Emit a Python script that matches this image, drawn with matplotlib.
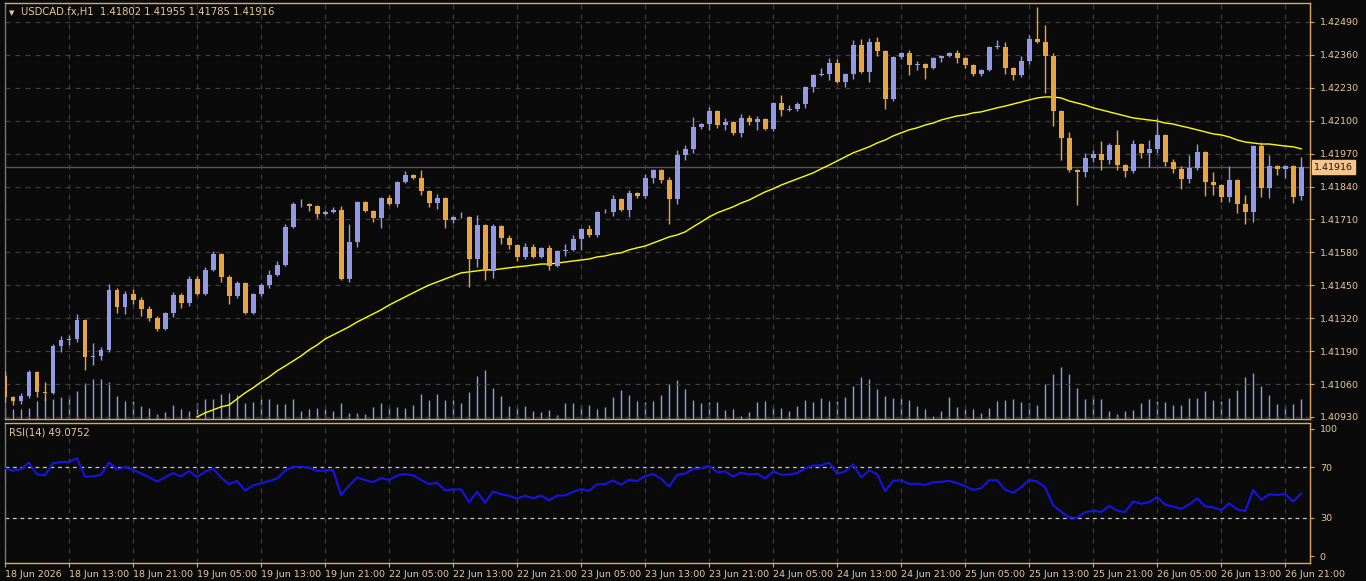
import numpy as np
import matplotlib
matplotlib.use("Agg")
import matplotlib.pyplot as plt
from matplotlib.patches import Rectangle

closes = [1.41009,1.40993,1.41013,1.41108,1.41029,1.41025,1.41210,1.41234,1.41238,1.41313,
1.41167,1.41171,1.41195,1.41432,1.41365,1.41416,1.41392,1.41357,1.41321,1.41278,
1.41341,1.41412,1.41380,1.41475,1.41416,1.41511,1.41574,1.41483,1.41408,1.41459,
1.41341,1.41416,1.41451,1.41491,1.41530,1.41681,1.41771,1.41771,1.41763,1.41732,
1.41740,1.41748,1.41475,1.41621,1.41779,1.41744,1.41716,1.41795,1.41771,1.41858,
1.41886,1.41874,1.41823,1.41775,1.41795,1.41708,1.41720,1.41720,1.41554,1.41688,
1.41507,1.41684,1.41637,1.41609,1.41562,1.41602,1.41562,1.41598,1.41526,1.41586,
1.41590,1.41633,1.41673,1.41649,1.41740,1.41740,1.41791,1.41748,1.41815,1.41803,
1.41874,1.41906,1.41866,1.41791,1.41965,1.41989,1.42076,1.42087,1.42139,1.42083,
1.42095,1.42052,1.42111,1.42095,1.42107,1.42068,1.42170,1.42143,1.42147,1.42166,
1.42234,1.42281,1.42285,1.42328,1.42253,1.42285,1.42399,1.42293,1.42411,1.42376,
1.42186,1.42352,1.42368,1.42320,1.42324,1.42309,1.42348,1.42356,1.42368,1.42348,
1.42320,1.42285,1.42301,1.42392,1.42392,1.42309,1.42281,1.42336,1.42423,1.42411,
1.42356,1.42139,1.42032,1.41906,1.41898,1.41953,1.41969,1.41945,1.42004,1.41925,
1.41902,1.42008,1.41973,1.41989,1.42044,1.41937,1.41910,1.41870,1.41914,1.41977,
1.41858,1.41846,1.41799,1.41866,1.41771,1.41740,1.42000,1.41835,1.41921,1.41910,
1.41921,1.41799,1.41916]
first_open = 1.41092
last_open = 1.41802

upper_wick = [20,5,10,8,5,40,8,15,15,25, 5,50,10,25,8,12,20,10,12,8,
5,12,8,10,10,10,10,5,8,8, 5,5,10,20,15,10,10,20,5,5,
8,10,15,70,5,5,5,5,10,5, 15,5,30,5,15,5,5,20,5,40,
5,10,5,10,5,15,10,5,10,5, 25,15,5,15,5,10,15,5,10,5,
15,5,5,10,20,15,40,5,15,5, 15,5,15,10,10,5,5,30,15,8,
5,5,25,20,15,5,20,25,15,20, 5,5,5,10,10,5,5,5,5,10,
5,5,
5,5,25,20,5,20,15,128,68,10, 5,25,5,20,15,50,10,60,5,15,
5,35,65,5,10,10,50,30,5,40, 5,55,5,35,5,15,45,5,5,5, 39]
lower_wick = [20,15,10,10,20,30,5,25,20,10, 50,30,15,10,25,30,15,30,10,10,
5,15,20,10,5,5,5,20,30,10, 5,5,10,10,5,5,5,10,20,15,
5,5,5,10,20,5,15,40,5,10, 5,5,15,15,25,30,10,5,110,30,
35,30,25,15,15,10,5,5,15,5, 20,5,45,10,10,5,15,5,30,10,
10,20,10,100,20,20,15,10,25,10, 20,10,15,10,30,5,10,25,5,10,
15,20,5,25,5,20,20,5,40,20, 40,10,10,40,20,45,5,15,5,20,
10,10,
10,5,10,25,20,10,10,5,145,60, 88,8,130,20,15,40,15,20,25,10,
20,55,15,15,15,40,15,10,55,40, 20,20,35,48,40,35,40,25,35,25, 14]

volume = [12,10,10,11,18,22,20,22,23,28, 36,40,40,37,23,18,18,13,11,5,
7,14,10,8,16,20,20,25,26,24, 16,17,20,20,15,15,20,8,10,11,
10,8,16,6,6,5,12,16,12,12, 11,14,25,19,25,19,19,16,27,43,
49,31,23,13,12,13,8,7,9,4, 16,16,14,14,10,12,22,29,24,18,
17,18,24,35,39,30,19,16,17,17, 9,10,3,7,17,18,12,11,8,13,
19,17,21,18,18,22,33,42,40,30, 23,21,21,19,13,10,3,8,22,12,
10,10,
6,11,18,19,20,17,16,14,35,45, 52,45,31,20,23,20,8,5,8,9,
16,20,18,17,14,14,21,21,28,19, 18,21,29,42,46,33,24,15,13,15, 20]

ma_start = 24
ma_values = [1.40930,1.40946,1.40958,1.40970,1.40977,1.41001,1.41025,1.41045,1.41068,1.41088,
1.41112,1.41131,1.41151,1.41171,1.41195,1.41214,1.41238,1.41254,1.41270,1.41286,
1.41305,1.41321,1.41337,1.41353,1.41372,1.41388,1.41404,1.41420,1.41436,1.41451,
1.41463,1.41475,1.41487,1.41499,1.41503,1.41507,1.41511,1.41511,1.41515,1.41519,
1.41523,1.41526,1.41530,1.41534,1.41534,1.41538,1.41542,1.41546,1.41550,1.41554,
1.41562,1.41566,1.41574,1.41578,1.41590,1.41598,1.41605,1.41617,1.41629,1.41641,
1.41649,1.41661,1.41681,1.41700,1.41720,1.41736,1.41748,1.41760,1.41775,1.41787,
1.41803,1.41819,1.41831,1.41846,1.41858,1.41870,1.41882,1.41894,1.41910,1.41925,
1.41941,1.41957,1.41973,1.41985,1.41997,1.42012,1.42024,1.42040,1.42052,1.42064,
1.42072,1.42083,1.42091,1.42103,1.42111,1.42119,1.42123,1.42131,1.42135,1.42143,
1.42151,1.42158,1.42166,1.42174,1.42182,1.42190,1.42194,1.42194,1.42190,1.42178,
1.42170,1.42162,1.42151,1.42143,1.42135,1.42127,1.42119,1.42111,1.42107,1.42103,
1.42099,1.42091,1.42087,1.42079,1.42072,1.42064,1.42056,1.42048,1.42044,1.42036,
1.42024,1.42016,1.42012,1.42008,1.42008,1.42004,1.42000,1.41997,1.41989]

price_ticks = [1.42490,1.42360,1.42230,1.42100,1.41970,1.41840,1.41710,1.41580,1.41450,1.41320,1.41190,1.41060,1.40930]
time_labels = ["18 Jun 2026","18 Jun 13:00","18 Jun 21:00","19 Jun 05:00","19 Jun 13:00","19 Jun 21:00",
"22 Jun 05:00","22 Jun 13:00","22 Jun 21:00","23 Jun 05:00","23 Jun 13:00","23 Jun 21:00",
"24 Jun 05:00","24 Jun 13:00","24 Jun 21:00","25 Jun 05:00","25 Jun 13:00","25 Jun 21:00",
"26 Jun 05:00","26 Jun 13:00","26 Jun 21:00"]
rsi_ticks = [100, 70, 30, 0]
rsi_seed_gain, rsi_seed_loss = 0.00030, 0.000070
title = "USDCAD.fx,H1  1.41802 1.41955 1.41785 1.41916"
rsi_title = "RSI(14) 49.0752"

closes = np.array(closes)
n = len(closes)
opens = np.concatenate([[first_open], closes[:-1]])
opens[-1] = last_open
highs = np.maximum(opens, closes) + np.array(upper_wick) * 1e-5
lows = np.minimum(opens, closes) - np.array(lower_wick) * 1e-5

ag, al = rsi_seed_gain, rsi_seed_loss
rsi = []
prev = first_open
for c in closes:
    d = c - prev
    ag = (ag * 13 + max(d, 0)) / 14
    al = (al * 13 + max(-d, 0)) / 14
    rsi.append(100 - 100 / (1 + ag / al))
    prev = c
rsi = np.array(rsi)

BG = "#0a0a0a"
GRID = "#3c3c3c"
TXT = "#e8c8a0"
BORDER = "#d9a866"
BULL = "#9499e6"
BEAR = "#e8a442"

W, H = 1366, 581
plt.rcParams['font.family'] = ['DejaVu Sans']
fig = plt.figure(figsize=(W/100, H/100), dpi=100, facecolor=BG)

def ax_rect(x0, y0, x1, y1):
    return [x0/W, 1 - y1/H, (x1-x0)/W, (y1-y0)/H]

ax = fig.add_axes(ax_rect(5, 3, 1310, 419))
axv = fig.add_axes(ax_rect(5, 3, 1310, 419), sharex=ax)
axv.set_zorder(0); ax.set_zorder(1); ax.patch.set_alpha(0)
axv.set_facecolor(BG)
axv.set_ylim(0, 416)
axv.set_yticks([]); axv.set_xticks([])
for s in axv.spines.values():
    s.set_visible(False)

ax2 = fig.add_axes(ax_rect(5, 423, 1310, 563))
for a in (ax, ax2):
    for s in a.spines.values():
        s.set_color(BORDER); s.set_linewidth(1)
    a.spines['left'].set_color("#777777")
    a.set_xlim(0, 163.1)
    a.yaxis.tick_right()
    a.tick_params(axis='y', colors=TXT, labelsize=6.8, length=3, pad=4, color=BORDER)
    a.tick_params(axis='x', colors=TXT, labelsize=6.8, length=3, color=BORDER)
    for x in np.arange(0, n, 8):
        a.axvline(x, color=GRID, lw=0.9, ls=(0, (4, 4)), zorder=0)
ax2.set_facecolor(BG)

ylo = 1.40922; yhi = 1.42565
ax.set_ylim(ylo, yhi)
ax.set_yticks(price_ticks)
ax.set_yticklabels([f"{p:.5f}" for p in price_ticks])
for p in price_ticks:
    ax.axhline(p, color=GRID, lw=0.9, ls=(0, (4, 4)), zorder=0)
ax.tick_params(axis='x', bottom=False, labelbottom=False)

idx = np.arange(n)
axv.vlines(idx, 0, volume, color=BULL, lw=1, zorder=1)

ax.plot(np.arange(ma_start, ma_start + len(ma_values)), ma_values, color="#ffff00", lw=1.0, zorder=2)
ax.axhline(closes[-1], color="#555555", lw=1.0, zorder=1)

bw = 0.62
for i in range(n):
    o, c, h, l = opens[i], closes[i], highs[i], lows[i]
    col = BULL if c >= o else BEAR
    ax.vlines(i, l, h, color=col, lw=1, zorder=3)
    bot = min(o, c); ht = max(abs(c - o), 0.000012)
    ax.add_patch(Rectangle((i - bw/2, bot), bw, ht, facecolor=col, edgecolor=col, lw=0, zorder=4))

ax.text(1.003, (closes[-1]-ylo)/(yhi-ylo), f"{closes[-1]:.5f}", transform=ax.transAxes, fontsize=6.8,
        color="#101010", va='center', ha='left',
        bbox=dict(boxstyle='square,pad=0.25', fc="#f5c58e", ec="#f5c58e"), zorder=10, clip_on=False)

ax.text(0.003, 0.983, "\u25bc", transform=ax.transAxes, fontsize=5, color=TXT, va='top', ha='left')
ax.text(0.012, 0.99, title, transform=ax.transAxes, fontsize=7.2, color=TXT, va='top', ha='left')

ax2.set_ylim(-5.5, 104.7)
ax2.set_yticks(rsi_ticks)
ax2.set_yticklabels([str(t) for t in rsi_ticks])
for lv in (70, 30):
    ax2.axhline(lv, color="#c8c8c8", lw=0.9, ls=(0, (3, 3)), zorder=1)
ax2.plot(idx, rsi, color="#1414e6", lw=1.5, zorder=3)
ax2.text(0.003, 0.97, rsi_title, transform=ax2.transAxes, fontsize=7.2, color=TXT, va='top', ha='left')
ax2.set_xticks(np.arange(0, n, 8))
ax2.set_xticklabels(time_labels, ha='left')
ax2.tick_params(axis='x', pad=2)

fig.savefig("out.png", dpi=100, facecolor=BG)
